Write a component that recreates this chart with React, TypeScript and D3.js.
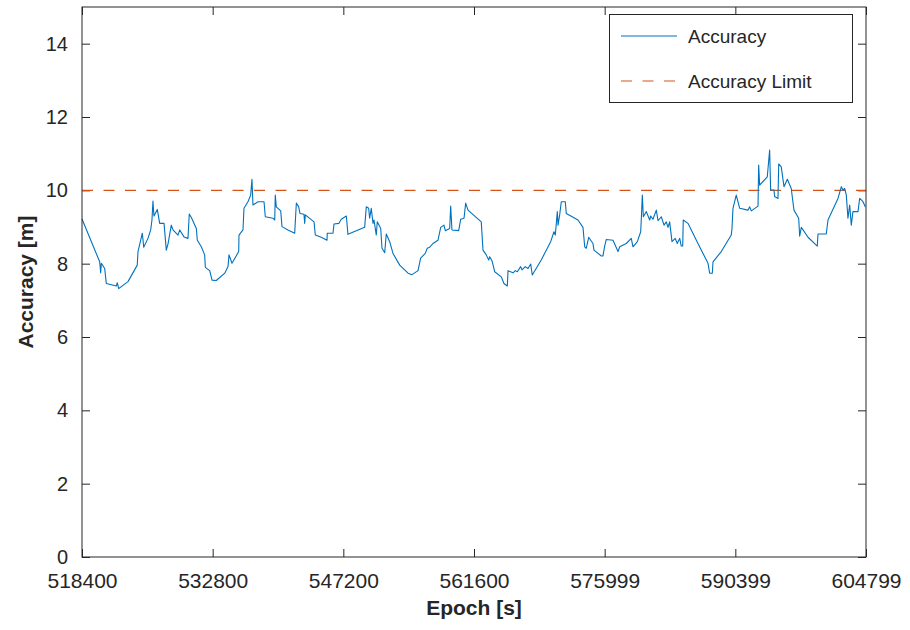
import { useEffect, useRef } from 'react';
import * as d3 from 'd3';

// epoch [s] and accuracy [m]
const epochs = [
	518400, 520350, 520460, 520530, 520900, 521080, 522180, 522290, 522440, 523470,
	524490, 524570, 525050, 525200, 525670, 525970, 526110, 526220, 526330, 526700,
	526960, 527440, 527690, 527880, 528240, 528430, 528980, 529170, 529640, 530080,
	530220, 530450, 531000, 531110, 531550, 531920, 531990, 532470, 532730, 533200,
	534130, 534490, 534600, 534930, 535670, 535700, 536140, 536250, 536690, 536990,
	537130, 537240, 537800, 538460, 538600, 539450, 539640, 539700, 539810, 540300,
	540440, 541100, 541840, 542020, 542280, 542420, 542860, 542940, 543010, 543970,
	544110, 544770, 545400, 545430, 546060, 546170, 546720, 546970, 547530, 547710,
	549550, 549730, 549990, 550100, 550280, 550470, 550580, 550830, 550940, 551320,
	551460, 551760, 551930, 552310, 552670, 553410, 554330, 554770, 555430, 555720,
	556230, 556450, 556720, 557080, 557630, 557930, 558290, 558440, 558920, 559030,
	559170, 559910, 560130, 560500, 560680, 560940, 562400, 562590, 562950, 563220,
	563330, 563580, 563880, 564610, 564900, 565270, 565350, 565900, 566150, 566370,
	566740, 566890, 567250, 567550, 567850, 568020, 569010, 570050, 570410, 570560,
	570780, 570860, 571040, 571220, 571660, 571770, 573060, 573610, 573800, 573970,
	574240, 574710, 574820, 575630, 575810, 576000, 576180, 576920, 577470, 577660,
	578380, 578930, 579120, 579600, 579970, 580040, 580150, 580260, 580590, 580960,
	581070, 581320, 581690, 581880, 582240, 582540, 582790, 582980, 583160, 583420,
	583780, 584000, 584270, 584440, 584600, 584660, 585180, 586280, 587390, 587570,
	587860, 587940, 588850, 589950, 590030, 590140, 590500, 590880, 591790, 591980,
	592160, 592900, 592970, 593080, 593920, 594180, 594290, 594660, 594730, 595100,
	595180, 595460, 595760, 596130, 596560, 596860, 597380, 597490, 597670, 598410,
	599430, 599510, 600420, 600610, 601710, 602080, 602260, 602450, 602630, 602810,
	603000, 603180, 603360, 603920, 604100, 604470, 604720,
];
const accuracy = [
	9.22, 8.05, 7.75, 8.01, 7.87, 7.46, 7.39, 7.48, 7.32, 7.51,
	7.96, 8.33, 8.83, 8.45, 8.69, 8.92, 9.19, 9.71, 9.3, 9.48,
	9.1, 9.1, 8.37, 8.54, 9.05, 8.92, 8.78, 8.92, 8.73, 8.69,
	9.35, 9.26, 8.96, 8.64, 8.46, 8.24, 7.9, 7.81, 7.55, 7.54,
	7.74, 7.92, 8.24, 8.01, 8.33, 8.78, 8.92, 9.51, 9.69, 9.87,
	10.3, 9.6, 9.69, 9.69, 9.28, 9.24, 9.19, 9.87, 9.55, 9.44,
	9.01, 8.92, 8.83, 9.65, 9.55, 9.37, 9.35, 9.1, 9.33, 9.14,
	8.78, 8.72, 8.64, 8.83, 8.83, 9.08, 9.1, 9.21, 9.3, 8.8,
	8.99, 9.55, 9.51, 9.24, 9.51, 9.1, 9.19, 8.78, 9.14, 8.96,
	8.42, 8.3, 8.81, 8.6, 8.28, 7.96, 7.74, 7.7, 7.81, 8.15,
	8.28, 8.42, 8.45, 8.55, 8.64, 8.99, 9.05, 8.9, 8.96, 9.57,
	8.92, 8.9, 9.21, 9.24, 9.65, 9.46, 9.14, 8.37, 8.24, 8.1,
	8.19, 8.08, 7.78, 7.64, 7.46, 7.39, 7.81, 7.75, 7.81, 7.78,
	7.92, 7.83, 7.92, 7.87, 7.99, 7.69, 8.1, 8.6, 8.87, 8.78,
	9.42, 9.05, 9.33, 9.69, 9.69, 9.37, 9.19, 8.99, 8.46, 8.42,
	8.72, 8.55, 8.37, 8.21, 8.21, 8.48, 8.66, 8.64, 8.33, 8.46,
	8.55, 8.69, 8.46, 8.6, 8.87, 9.24, 9.87, 9.28, 9.42, 9.19,
	9.3, 9.21, 9.46, 9.17, 9.28, 9.05, 9.14, 8.99, 9.14, 8.6,
	8.69, 8.55, 8.69, 8.48, 8.48, 9.19, 9.1, 8.55, 8.01, 7.74,
	7.74, 8.05, 8.33, 8.78, 8.96, 9.51, 9.87, 9.51, 9.46, 9.55,
	9.44, 9.57, 10.69, 10.14, 10.37, 11.1, 10.01, 10.01, 9.83, 9.78,
	10.72, 10.64, 10.1, 10.3, 10.05, 9.46, 9.24, 8.75, 8.99, 8.72,
	8.48, 8.81, 8.81, 9.19, 9.78, 10.1, 10.01, 10.05, 9.87, 9.24,
	9.6, 9.05, 9.42, 9.42, 9.78, 9.69, 9.55,
];
const accuracyLimit = 10;

const xTicks = [518400, 532800, 547200, 561600, 575999, 590399, 604799];
const xTickLabels = ['518400', '532800', '547200', '561600', '575999', '590399', '604799'];
const yTicks = [0, 2, 4, 6, 8, 10, 12, 14];
const seriesNames = ['Accuracy', 'Accuracy Limit'];

const App = () => {
	const ref = useRef<SVGSVGElement>(null);

	useEffect(() => {
		const width = 910,
			height = 630;
		const margin = { top: 7, right: 44, bottom: 73, left: 82 };
		const font = '"Liberation Sans", Arial, Helvetica, sans-serif';
		const axisColor = '#262626';

		const svg = d3.select(ref.current).attr('width', width).attr('height', height);
		svg.selectAll('*').remove();

		svg.append('rect').attr('width', width).attr('height', height).attr('fill', '#fff');

		const x = d3
			.scaleLinear()
			.domain([518400, 604799])
			.range([margin.left, width - margin.right]);
		const y = d3
			.scaleLinear()
			.domain([0, 15])
			.range([height - margin.bottom, margin.top]);

		const [x0, x1] = x.range();
		const [y0, y1] = y.range();
		const tickLen = 8;

		// Bottom axis (ticks point inward), labels below
		svg
			.append('g')
			.attr('transform', `translate(0, ${y0})`)
			.call(
				d3
					.axisBottom(x)
					.tickValues(xTicks)
					.tickFormat((d, i) => xTickLabels[i])
					.tickSizeInner(-tickLen)
					.tickSizeOuter(0)
					.tickPadding(16)
			)
			.call((g) => g.select('.domain').remove())
			.call((g) => g.selectAll('line').attr('stroke', axisColor))
			.selectAll('text')
			.attr('fill', axisColor)
			.style('font-family', font)
			.style('font-size', '21px');

		// Left axis
		svg
			.append('g')
			.attr('transform', `translate(${x0}, 0)`)
			.call(
				d3
					.axisLeft(y)
					.tickValues(yTicks)
					.tickSizeInner(-tickLen)
					.tickSizeOuter(0)
					.tickPadding(14)
			)
			.call((g) => g.select('.domain').remove())
			.call((g) => g.selectAll('line').attr('stroke', axisColor))
			.selectAll('text')
			.attr('fill', axisColor)
			.style('font-family', font)
			.style('font-size', '20px');

		// Top and right ticks (box on)
		svg
			.append('g')
			.attr('transform', `translate(0, ${y1})`)
			.call(d3.axisTop(x).tickValues(xTicks).tickSizeInner(-tickLen).tickSizeOuter(0).tickFormat(() => ''))
			.call((g) => g.select('.domain').remove())
			.selectAll('line')
			.attr('stroke', axisColor);
		svg
			.append('g')
			.attr('transform', `translate(${x1}, 0)`)
			.call(d3.axisRight(y).tickValues(yTicks).tickSizeInner(-tickLen).tickSizeOuter(0).tickFormat(() => ''))
			.call((g) => g.select('.domain').remove())
			.selectAll('line')
			.attr('stroke', axisColor);

		// Limit line
		svg
			.append('line')
			.attr('x1', x0)
			.attr('x2', x1)
			.attr('y1', y(accuracyLimit))
			.attr('y2', y(accuracyLimit))
			.attr('stroke', '#D95319')
			.attr('stroke-width', 1.2)
			.attr('stroke-dasharray', '11,10.5');

		// Accuracy series
		const data = epochs.map((e, i) => ({ e, v: accuracy[i] }));
		const line = d3
			.line<{ e: number; v: number }>()
			.x((d) => x(d.e))
			.y((d) => y(d.v));
		svg
			.append('path')
			.datum(data)
			.attr('d', line)
			.attr('fill', 'none')
			.attr('stroke', '#0072BD')
			.attr('stroke-width', 1.1)
			.attr('stroke-linejoin', 'round');

		// Axes box
		svg
			.append('rect')
			.attr('x', x0)
			.attr('y', y1)
			.attr('width', x1 - x0)
			.attr('height', y0 - y1)
			.attr('fill', 'none')
			.attr('stroke', axisColor)
			.attr('stroke-width', 1);

		// Axis labels
		svg
			.append('text')
			.attr('x', (x0 + x1) / 2)
			.attr('y', 615)
			.attr('text-anchor', 'middle')
			.attr('fill', axisColor)
			.style('font-family', font)
			.style('font-size', '21px')
			.style('font-weight', 'bold')
			.text('Epoch [s]');
		svg
			.append('text')
			.attr('transform', `translate(33, ${(y0 + y1) / 2}) rotate(-90)`)
			.attr('text-anchor', 'middle')
			.attr('fill', axisColor)
			.style('font-family', font)
			.style('font-size', '21px')
			.style('font-weight', 'bold')
			.text('Accuracy [m]');

		// Legend
		const legend = svg.append('g');
		legend
			.append('rect')
			.attr('x', 609.5)
			.attr('y', 14.5)
			.attr('width', 243)
			.attr('height', 88)
			.attr('fill', '#fff')
			.attr('stroke', axisColor)
			.attr('stroke-width', 1);
		const legendStyles = [
			{ color: '#0072BD', dash: null },
			{ color: '#D95319', dash: '11,10.5' },
		];
		seriesNames.forEach((name, i) => {
			const ly = 36 + i * 45;
			legend
				.append('line')
				.attr('x1', 621)
				.attr('x2', 677)
				.attr('y1', ly)
				.attr('y2', ly)
				.attr('stroke', legendStyles[i].color)
				.attr('stroke-width', 1.2)
				.attr('stroke-dasharray', legendStyles[i].dash);
			legend
				.append('text')
				.attr('x', 688)
				.attr('y', ly)
				.attr('dy', '0.35em')
				.attr('fill', axisColor)
				.style('font-family', font)
				.style('font-size', '19px')
				.text(name);
		});
	}, []);

	return <svg ref={ref} style={{ position: 'absolute', left: 0, top: 0 }} width={910} height={630}></svg>;
};

export default App;
